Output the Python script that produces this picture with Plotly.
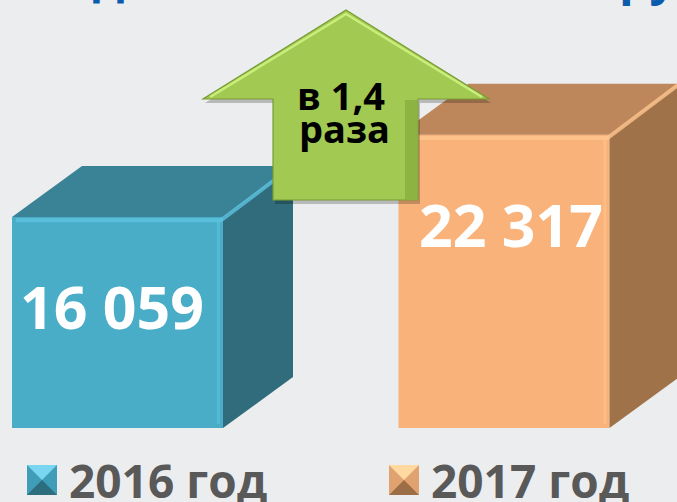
import plotly.graph_objects as go

# ---- data ----
categories = ["2016 год", "2017 год"]
values = [16059, 22317]
value_labels = ["16 059", "22 317"]
growth_label = ["в 1,4", "раза"]
title_text = "Подано заявлений, за группу"

# ---- styles ----
BG = "#ECEDEF"
front_colors = ["#4AADC8", "#F9B27A"]
top_colors = ["#3A8296", "#BE875B"]
side_colors = ["#306C7C", "#A0724A"]
hi_colors = ["#5CC3DF", "#FFC68E"]
W, H = 677, 502

# pixel geometry helpers (layout)
X_PX = 386.5          # px per category step
X_C0 = 117.5          # px of first category centre
Y_SCALE = 211 / 16059 # px per unit
Y_ZERO = 428          # px of value 0
BAR_W = 211 / X_PX
DX = 70 / X_PX
DY = 51 / Y_SCALE
LABEL_SHIFT = [-6, 7]

def px(x):
    return x / W

def py(y):
    return 1 - y / H

fig = go.Figure()

xs = list(range(len(categories)))
for i, v in zip(xs, values):
    x0, x1 = i - BAR_W / 2, i + BAR_W / 2
    # side face
    fig.add_trace(go.Scatter(
        x=[x1, x1 + DX, x1 + DX, x1, x1],
        y=[0, DY, v + DY, v, 0],
        fill="toself", fillcolor=side_colors[i], mode="lines",
        line=dict(width=0, color=side_colors[i]), hoverinfo="skip", showlegend=False))
    # top face
    fig.add_trace(go.Scatter(
        x=[x0, x1, x1 + DX, x0 + DX, x0],
        y=[v, v, v + DY, v + DY, v],
        fill="toself", fillcolor=top_colors[i], mode="lines",
        line=dict(width=0, color=top_colors[i]), hoverinfo="skip", showlegend=False))

# front faces
fig.add_trace(go.Bar(
    x=xs, y=values, width=BAR_W,
    marker=dict(color=front_colors, line=dict(width=0)),
    hoverinfo="skip", showlegend=False))

# bevel highlights
for i, v in zip(xs, values):
    x0, x1 = i - BAR_W / 2, i + BAR_W / 2
    fig.add_trace(go.Scatter(
        x=[x0 + 0.01, x1 - 0.005, x1 + DX], y=[v - 250, v - 250, v + DY],
        mode="lines", line=dict(width=4, color=hi_colors[i]),
        opacity=0.8, hoverinfo="skip", showlegend=False))
    fig.add_trace(go.Scatter(
        x=[x1 - 0.012, x1 - 0.012], y=[v - 300, 300],
        mode="lines", line=dict(width=3, color=hi_colors[i]),
        opacity=0.6, hoverinfo="skip", showlegend=False))

shapes = []
# arrow (decoration) - shadow then body
arrow_pts = [(346, 10), (489, 99), (418, 99), (418, 200), (273, 200), (273, 99), (203, 99)]

def path_of(pts, ox=0, oy=0):
    s = "M " + " L ".join(f"{px(x + ox):.5f},{py(y + oy):.5f}" for x, y in pts) + " Z"
    return s

shapes.append(dict(type="path", xref="paper", yref="paper", layer="above",
                   path=path_of(arrow_pts, 2, 4), fillcolor="rgba(0,0,0,0.22)",
                   line=dict(width=0)))
shapes.append(dict(type="path", xref="paper", yref="paper", layer="above",
                   path=path_of(arrow_pts), fillcolor="#A2C951",
                   line=dict(width=1.2, color="#7A9C35")))
# head highlight
shapes.append(dict(type="path", xref="paper", yref="paper", layer="above",
                   path=f"M {px(210):.5f},{py(97):.5f} L {px(346):.5f},{py(14):.5f} L {px(482):.5f},{py(97):.5f}",
                   line=dict(width=2.5, color="#C9EE7C")))
# shaft shading
shapes.append(dict(type="path", xref="paper", yref="paper", layer="above",
                   path=path_of([(405, 100), (417, 100), (417, 199), (405, 199)]),
                   fillcolor="#8DB443", line=dict(width=0)))

# legend keys
leg_sq = [(27, 465, 57, 495), (389, 465, 419, 495)]
leg_top = ["#7AD6F0", "#FFD9A0"]
leg_mid = ["#3F9DB7", "#E0A270"]
leg_bot = ["#2C6D7E", "#9C6E45"]
for k, (x0, y0, x1, y1) in enumerate(leg_sq):
    cx, cy = (x0 + x1) / 2, (y0 + y1) / 2
    shapes.append(dict(type="rect", xref="paper", yref="paper",
                       x0=px(x0), x1=px(x1), y0=py(y1), y1=py(y0),
                       fillcolor=leg_mid[k], line=dict(width=0)))
    shapes.append(dict(type="path", xref="paper", yref="paper",
                       path=path_of([(x0, y0), (x1, y0), (cx, cy)]),
                       fillcolor=leg_top[k], line=dict(width=0)))
    shapes.append(dict(type="path", xref="paper", yref="paper",
                       path=path_of([(x0, y1), (x1, y1), (cx, cy)]),
                       fillcolor=leg_bot[k], line=dict(width=0)))

annotations = []
FONT = "Open Sans, Noto Sans, sans-serif"
# value labels
for i, v in zip(xs, values):
    annotations.append(dict(x=i, y=v - 6800, xref="x", yref="y",
                            text=f"<b>{value_labels[i]}</b>", showarrow=False,
                            xanchor="center", yanchor="middle", xshift=LABEL_SHIFT[i],
                            font=dict(family=FONT, size=59, color="white")))
# growth label
annotations.append(dict(x=px(341), y=py(95), xref="paper", yref="paper",
                        text=f"<b>{growth_label[0]}</b>", showarrow=False,
                        xanchor="center", yanchor="middle",
                        font=dict(family=FONT, size=38, color="black")))
annotations.append(dict(x=px(344), y=py(128), xref="paper", yref="paper",
                        text=f"<b>{growth_label[1]}</b>", showarrow=False,
                        xanchor="center", yanchor="middle",
                        font=dict(family=FONT, size=38, color="black")))
# legend texts
for k, (x0, y0, x1, y1) in enumerate(leg_sq):
    annotations.append(dict(x=px(x1 + 10), y=py(480), xref="paper", yref="paper",
                            text=f"<b>{categories[k]}</b>", showarrow=False,
                            xanchor="left", yanchor="middle",
                            font=dict(family=FONT, size=46, color="#595959")))
# cut-off title
annotations.append(dict(x=px(25), y=py(-25), xref="paper", yref="paper",
                        text=f"<b>{title_text}</b>", showarrow=False,
                        xanchor="left", yanchor="middle",
                        font=dict(family=FONT, size=48, color="#0B5CAD")))

fig.update_layout(
    width=W, height=H,
    margin=dict(l=0, r=0, t=0, b=0),
    paper_bgcolor=BG, plot_bgcolor=BG,
    xaxis=dict(range=[-X_C0 / X_PX, (W - X_C0) / X_PX], visible=False, fixedrange=True),
    yaxis=dict(range=[-(H - Y_ZERO) / Y_SCALE, Y_ZERO / Y_SCALE], visible=False, fixedrange=True),
    shapes=shapes, annotations=annotations,
    showlegend=False,
)

fig.write_html("out.html",
               config={"displayModeBar": False, "staticPlot": True},
               post_script="document.body.style.margin='0px';document.body.style.padding='0px';document.body.style.overflow='hidden';document.body.style.background='#ECEDEF';")
